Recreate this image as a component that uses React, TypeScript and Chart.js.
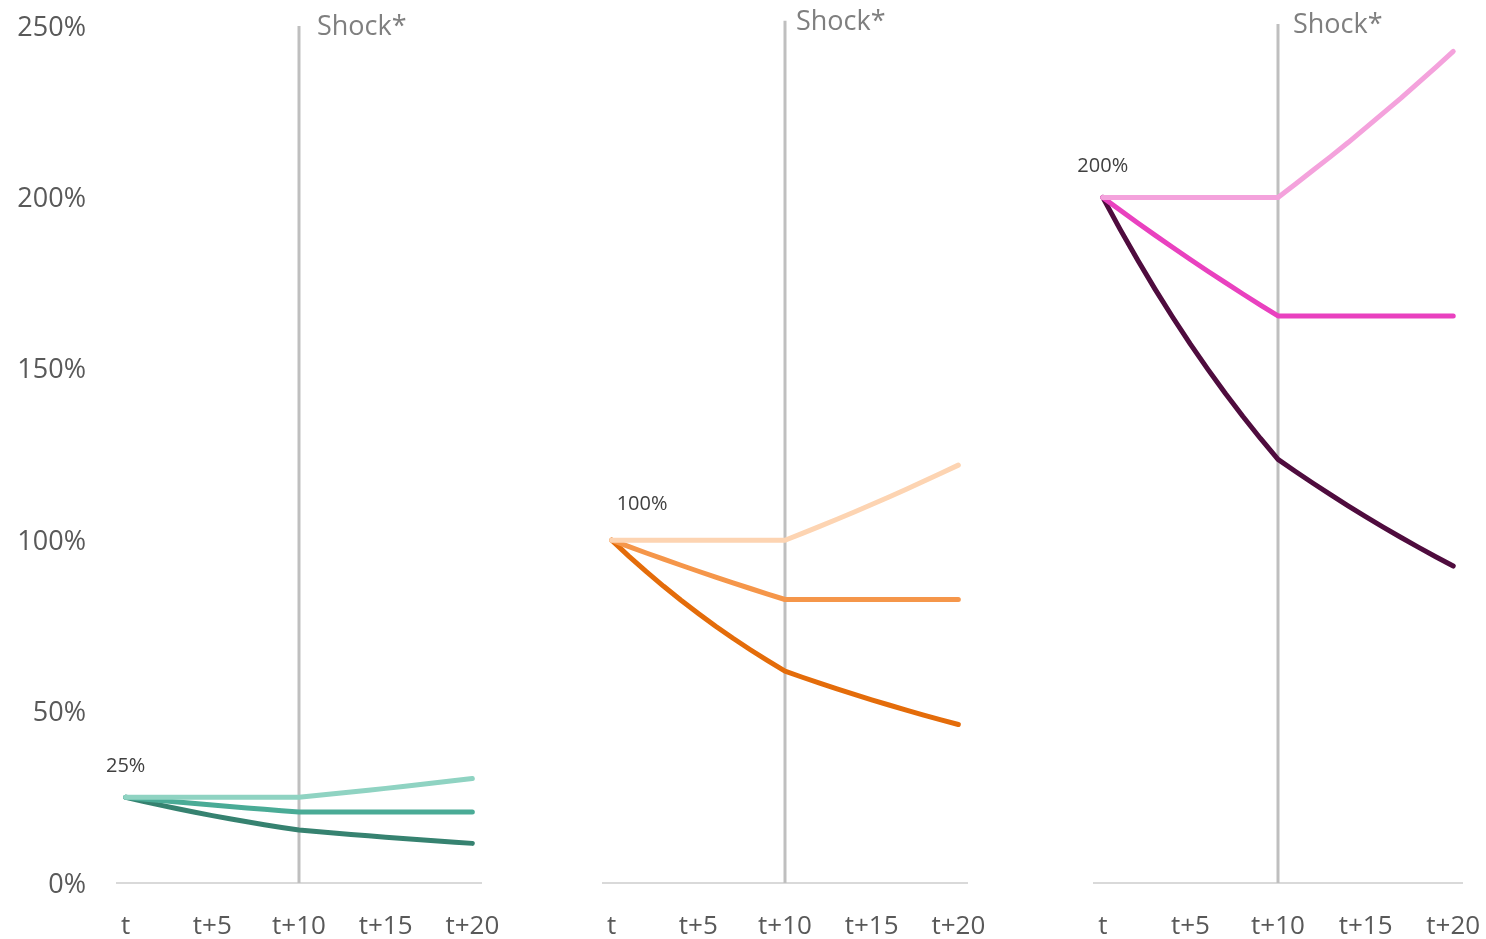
import React, { useEffect, useRef } from "react";
import { Chart, registerables } from "chart.js";

Chart.register(...registerables);

// Years after the starting point t
const CATEGORIES = [
  "t", "t+1", "t+2", "t+3", "t+4", "t+5", "t+6", "t+7", "t+8", "t+9", "t+10",
  "t+11", "t+12", "t+13", "t+14", "t+15", "t+16", "t+17", "t+18", "t+19", "t+20",
];
const SHOWN_TICKS = ["t", "t+5", "t+10", "t+15", "t+20"];
const SHOCK_AT = "t+10";
const SHOCK_TEXT = "Shock*";

// Y axis, percent of GDP
const Y_MIN = 0;
const Y_MAX = 250;
const Y_STEP = 50;

// Panel 1: starting at 25%
const TEAL_RISING = [25, 25, 25, 25, 25, 25, 25, 25, 25, 25, 25, 25.5, 26.01, 26.53, 27.06, 27.6, 28.16, 28.72, 29.29, 29.88, 30.47];
const TEAL_FLAT = [25, 24.53, 24.07, 23.62, 23.17, 22.74, 22.31, 21.89, 21.48, 21.07, 20.68, 20.68, 20.68, 20.68, 20.68, 20.68, 20.68, 20.68, 20.68, 20.68, 20.68];
const TEAL_FALLING = [25, 23.83, 22.71, 21.64, 20.62, 19.65, 18.73, 17.85, 17.01, 16.21, 15.45, 15.01, 14.58, 14.16, 13.76, 13.36, 12.98, 12.61, 12.25, 11.9, 11.56];

// Panel 2: starting at 100%
const ORANGE_RISING = [100, 100, 100, 100, 100, 100, 100, 100, 100, 100, 100, 102, 104.04, 106.12, 108.24, 110.41, 112.62, 114.87, 117.17, 119.51, 121.9];
const ORANGE_FLAT = [100, 98.12, 96.27, 94.46, 92.69, 90.94, 89.23, 87.56, 85.91, 84.29, 82.7, 82.7, 82.7, 82.7, 82.7, 82.7, 82.7, 82.7, 82.7, 82.7, 82.7];
const ORANGE_FALLING = [100, 95.3, 90.82, 86.55, 82.48, 78.61, 74.91, 71.39, 68.04, 64.84, 61.79, 60.02, 58.31, 56.64, 55.02, 53.44, 51.92, 50.43, 48.99, 47.59, 46.23];

// Panel 3: starting at 200%
const PINK_RISING = [200, 200, 200, 200, 200, 200, 200, 200, 200, 200, 200, 203.9, 207.9, 211.9, 216.0, 220.3, 224.6, 228.9, 233.4, 237.9, 242.6];
const PINK_FLAT = [200, 196.24, 192.55, 188.93, 185.38, 181.89, 178.47, 175.12, 171.82, 168.59, 165.42, 165.42, 165.42, 165.42, 165.42, 165.42, 165.42, 165.42, 165.42, 165.42, 165.42];
const PINK_FALLING = [200, 190.6, 181.64, 173.1, 164.97, 157.21, 149.83, 142.78, 136.07, 129.68, 123.58, 120.05, 116.61, 113.28, 110.04, 106.89, 103.83, 100.86, 97.98, 95.17, 92.45];

const FONT = '"Open Sans", sans-serif';
const CANVAS_HEIGHT = 939;

type Panel = {
  left: number;
  width: number;
  padLeft: number;
  padRight: number;
  showY: boolean;
  series: number[][];
  colors: string[];
  shockTop: number;
  shockDx: number;
  labelAlign: CanvasTextAlign;
  labelDx: number;
  labelDy: number;
};

const PANELS: Panel[] = [
  {
    left: 0, width: 540, padLeft: 0, padRight: 59, showY: true,
    series: [TEAL_RISING, TEAL_FLAT, TEAL_FALLING],
    colors: ["#8fd3c2", "#4aab96", "#368270"],
    shockTop: 250, shockDx: 18, labelAlign: "center", labelDx: 0, labelDy: -25,
  },
  {
    left: 560, width: 460, padLeft: 43, padRight: 53, showY: false,
    series: [ORANGE_RISING, ORANGE_FLAT, ORANGE_FALLING],
    colors: ["#fdd4b2", "#f5964a", "#e46c0a"],
    shockTop: 251.5, shockDx: 11, labelAlign: "left", labelDx: 5, labelDy: -30,
  },
  {
    left: 1040, width: 446, padLeft: 54, padRight: 24, showY: false,
    series: [PINK_RISING, PINK_FLAT, PINK_FALLING],
    colors: ["#f4a2dc", "#e941bf", "#4f0c3e"],
    shockTop: 250.6, shockDx: 15, labelAlign: "center", labelDx: 0, labelDy: -25,
  },
];

// Vertical shock marker drawn beneath the series, plus the starting value label on top
const shockMarker = {
  id: "shockMarker",
  beforeDatasetsDraw(chart: any, _args: any, opts: any) {
    const { ctx, chartArea, scales } = chart;
    const x = scales.x.getPixelForValue(CATEGORIES.indexOf(SHOCK_AT));
    const top = scales.y.getPixelForValue(opts.topValue);
    ctx.save();
    ctx.strokeStyle = "#bfbfbf";
    ctx.lineWidth = 3;
    ctx.beginPath();
    ctx.moveTo(x, top);
    ctx.lineTo(x, chartArea.bottom);
    ctx.stroke();
    ctx.fillStyle = "#7f7f7f";
    ctx.font = `27px ${FONT}`;
    ctx.textAlign = "left";
    ctx.textBaseline = "alphabetic";
    ctx.fillText(SHOCK_TEXT, x + opts.dx, top + 9);
    ctx.restore();
  },
  afterDatasetsDraw(chart: any, _args: any, opts: any) {
    const { ctx, scales } = chart;
    const start = chart.data.datasets[0].data[0] as number;
    const x = scales.x.getPixelForValue(0);
    const y = scales.y.getPixelForValue(start);
    ctx.save();
    ctx.fillStyle = "#404040";
    ctx.font = `20px ${FONT}`;
    ctx.textAlign = opts.labelAlign;
    ctx.textBaseline = "alphabetic";
    ctx.fillText(`${start}%`, x + opts.labelDx, y + opts.labelDy);
    ctx.restore();
  },
};

function PanelChart({ panel }: { panel: Panel }) {
  const ref = useRef<HTMLCanvasElement | null>(null);

  useEffect(() => {
    if (!ref.current) return;
    const chart = new Chart(ref.current, {
      type: "line",
      data: {
        labels: CATEGORIES,
        datasets: panel.series.map((values, i) => ({
          data: values,
          borderColor: panel.colors[i],
          backgroundColor: panel.colors[i],
          borderWidth: 5,
          borderCapStyle: "round",
          borderJoinStyle: "round",
          pointRadius: 0,
          tension: 0,
          fill: false,
        })),
      },
      plugins: [shockMarker],
      options: {
        animation: false,
        responsive: false,
        layout: { padding: { top: 26, bottom: 0, left: panel.padLeft, right: panel.padRight } },
        plugins: {
          legend: { display: false },
          tooltip: { enabled: false },
          shockMarker: {
            topValue: panel.shockTop,
            dx: panel.shockDx,
            labelAlign: panel.labelAlign,
            labelDx: panel.labelDx,
            labelDy: panel.labelDy,
          },
        } as any,
        scales: {
          x: {
            type: "category",
            offset: true,
            // tick marks are hidden; their length only spaces the labels from the axis
            grid: { display: false, drawTicks: true, tickLength: 28 },
            border: { display: true, color: "#d9d9d9", width: 2 },
            ticks: {
              autoSkip: false,
              maxRotation: 0,
              padding: 0,
              color: "#595959",
              font: { family: FONT, size: 26 },
              callback: (_v: any, idx: number) =>
                SHOWN_TICKS.includes(CATEGORIES[idx]) ? CATEGORIES[idx] : "",
            },
            afterFit: (scale: any) => {
              scale.height = 56;
            },
          },
          y: {
            display: panel.showY,
            min: Y_MIN,
            max: Y_MAX,
            grid: { display: false, drawTicks: true, tickLength: 31 },
            border: { display: false },
            ticks: {
              stepSize: Y_STEP,
              padding: 0,
              labelOffset: 2,
              color: "#595959",
              font: { family: FONT, size: 27 },
              callback: (v: any) => `${v}%`,
            },
            afterFit: (scale: any) => {
              if (panel.showY) scale.width = 117;
            },
          },
        },
      } as any,
    });
    return () => chart.destroy();
  }, [panel]);

  return (
    <canvas
      ref={ref}
      width={panel.width}
      height={CANVAS_HEIGHT}
      style={{ position: "absolute", left: panel.left, top: 0, width: panel.width, height: CANVAS_HEIGHT }}
    />
  );
}

export default function App() {
  return (
    <div
      style={{
        position: "fixed",
        left: 0,
        top: 0,
        width: 1486,
        height: CANVAS_HEIGHT,
        background: "#ffffff",
        overflow: "hidden",
      }}
    >
      {PANELS.map((p, i) => (
        <PanelChart key={i} panel={p} />
      ))}
    </div>
  );
}
